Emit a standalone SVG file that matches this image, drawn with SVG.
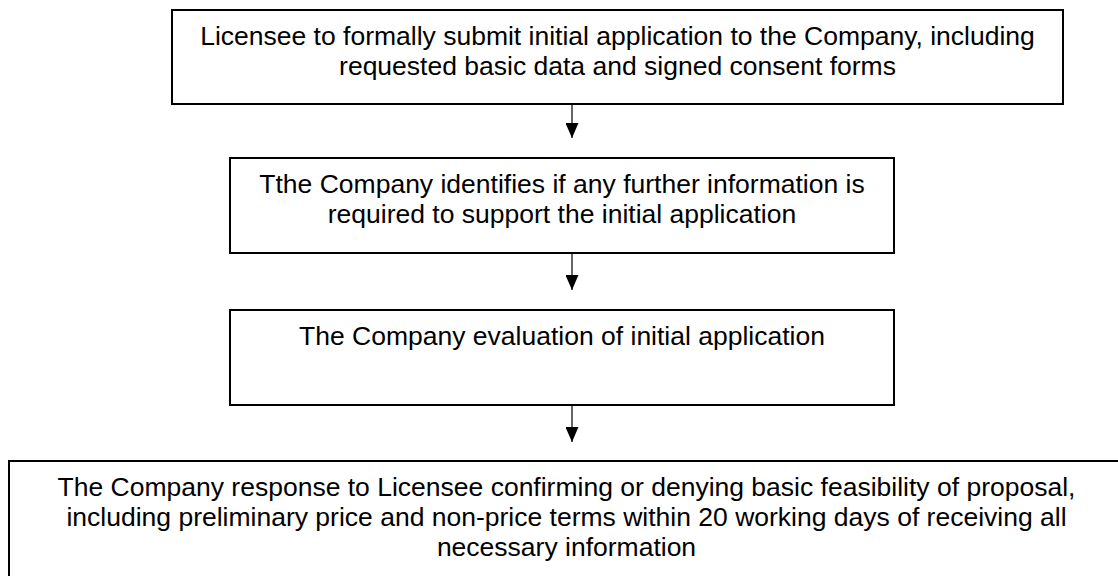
<svg xmlns="http://www.w3.org/2000/svg" width="1118" height="576" viewBox="0 0 1118 576">
  <style>
    .box { fill: #ffffff; stroke: #000000; stroke-width: 2; }
    .lbl { font-family: "Liberation Sans", Arial, sans-serif; font-size: 26.5px; fill: #000000; text-anchor: middle; }
    .conn { stroke: #000000; stroke-width: 1.2; fill: none; }
  </style>
  <defs>
    <marker id="arrow" markerUnits="userSpaceOnUse" markerWidth="15" markerHeight="13" refX="15" refY="6.5" orient="auto">
      <path d="M0,0 L15,6.5 L0,13 z" fill="#000000"/>
    </marker>
  </defs>
  <rect x="0" y="0" width="1118" height="576" fill="#ffffff"/>
  <g id="node1">
    <rect class="box" x="172" y="10" width="891" height="94"/>
    <text class="lbl" x="617.5" y="45">Licensee to formally submit initial application to the Company, including</text>
    <text class="lbl" x="617.5" y="75">requested basic data and signed consent forms</text>
  </g>
  <g id="node2">
    <rect class="box" x="230" y="158" width="664" height="95"/>
    <text class="lbl" x="562" y="193">Tthe Company identifies if any further information is</text>
    <text class="lbl" x="562" y="223">required to support the initial application</text>
  </g>
  <g id="node3">
    <rect class="box" x="230" y="310" width="664" height="95"/>
    <text class="lbl" x="562" y="345">The Company evaluation of initial application</text>
  </g>
  <g id="node4">
    <rect class="box" x="9" y="461" width="1115" height="140"/>
    <text class="lbl" x="566.5" y="496">The Company response to Licensee confirming or denying basic feasibility of proposal,</text>
    <text class="lbl" x="566.5" y="526">including preliminary price and non-price terms within 20 working days of receiving all</text>
    <text class="lbl" x="566.5" y="556">necessary information</text>
  </g>
  <g id="connectors">
    <line class="conn" x1="572" y1="104" x2="572" y2="138" marker-end="url(#arrow)"/>
    <line class="conn" x1="572" y1="253" x2="572" y2="290" marker-end="url(#arrow)"/>
    <line class="conn" x1="572" y1="405" x2="572" y2="442" marker-end="url(#arrow)"/>
  </g>
</svg>
